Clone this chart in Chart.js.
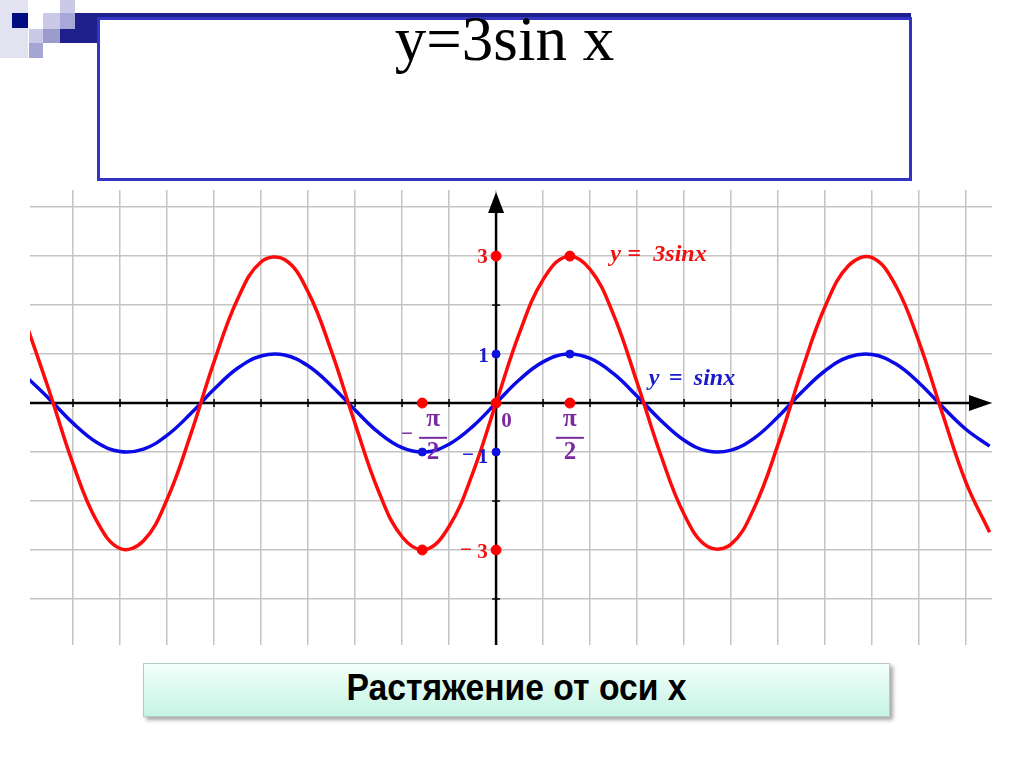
<!DOCTYPE html>
<html lang="ru">
<head>
	<meta charset="utf-8">
	<title>y=3sin x</title>
	<style>
body {
	margin: 0;
	width: 1024px;
	height: 767px;
	background: #fff;
	position: relative;
	overflow: hidden;
}
.sq { position: absolute; }
#titleBox {
	position: absolute;
	left: 97px;
	top: 17px;
	width: 809px;
	height: 158px;
	border: 3px solid #3434c2;
}
#titleText {
	position: absolute;
	left: 97px;
	top: 8px;
	width: 815px;
	text-align: center;
	font: 63px/63px "Liberation Serif", "Times New Roman", serif;
	color: #000;
}
#chartWrapper {
	position: absolute;
	left: 0;
	top: 180px;
	width: 1024px;
	height: 480px;
}
#noteBox {
	position: absolute;
	left: 143px;
	top: 663px;
	width: 745px;
	height: 52px;
	border: 1px solid #b9cbc3;
	background: linear-gradient(#f3fffb, #c4f4e3);
	box-shadow: 3px 3px 4px rgba(0,0,0,0.35);
}
#noteText {
	position: absolute;
	left: 143px;
	top: 663px;
	width: 747px;
	line-height: 50px;
	text-align: center;
	font-weight: bold;
	font-size: 37px;
	font-family: "Liberation Sans", Arial, sans-serif;
	transform: scaleX(0.91);
	color: #000;
}
	</style>
</head>
<body>

<div class="sq" style="left:0;top:0;width:28px;height:58px;background:#e2e2f1"></div>
<div class="sq" style="left:12px;top:13px;width:16px;height:15px;background:#000c80"></div>
<div class="sq" style="left:29px;top:29px;width:14px;height:14px;background:#cacae8"></div>
<div class="sq" style="left:29px;top:43px;width:14px;height:15px;background:#a6a6d6"></div>
<div class="sq" style="left:43px;top:13px;width:17px;height:16px;background:#cacae8"></div>
<div class="sq" style="left:43px;top:29px;width:17px;height:14px;background:#9c9ccc"></div>
<div class="sq" style="left:60px;top:0;width:15px;height:13px;background:#cacae8"></div>
<div class="sq" style="left:60px;top:13px;width:15px;height:16px;background:#a8a8d8"></div>
<div class="sq" style="left:60px;top:29px;width:38px;height:14px;background:#1e1e8c"></div>
<div class="sq" style="left:75px;top:13px;width:836px;height:5px;background:#1e1e8c"></div>
<div class="sq" style="left:75px;top:13px;width:23px;height:30px;background:#1e1e8c"></div>

<div id="titleBox"></div>
<div id="titleText">y=3sin x</div>

<div id="chartWrapper">
  <canvas id="myChart"></canvas>
</div>

<div id="noteBox"></div>
<div id="noteText">Растяжение от оси x</div>

<script src="https://cdn.jsdelivr.net/npm/chart.js"></script>
<script>
// x positions of the sampled points (grid step = 1)
const xs = [-10, -9.5, -9, -8.5, -8, -7.5, -7, -6.5, -6, -5.5, -5, -4.5, -4, -3.5, -3, -2.5, -2, -1.5, -1, -0.5,
	0, 0.5, 1, 1.5, 2, 2.5, 3, 3.5, 4, 4.5, 5, 5.5, 6, 6.5, 7, 7.5, 8, 8.5, 9, 9.5, 10, 10.5];

// y = 3sin x (red)
const redVals = [1.63, 0.23, -1.24, -2.4, -2.97, -2.81, -1.97, -0.65, 0.84, 2.12, 2.88, 2.93, 2.27, 1.05, -0.42, -1.8, -2.73, -2.99, -2.52, -1.44,
	0, 1.44, 2.52, 2.99, 2.73, 1.8, 0.42, -1.05, -2.27, -2.93, -2.88, -2.12, -0.84, 0.65, 1.97, 2.81, 2.97, 2.4, 1.24, -0.23, -1.63, -2.64];

// y = sin x (blue)
const blueVals = [0.54, 0.08, -0.41, -0.8, -0.99, -0.94, -0.66, -0.22, 0.28, 0.71, 0.96, 0.98, 0.76, 0.35, -0.14, -0.6, -0.91, -1.0, -0.84, -0.48,
	0, 0.48, 0.84, 1.0, 0.91, 0.6, 0.14, -0.35, -0.76, -0.98, -0.96, -0.71, -0.28, 0.22, 0.66, 0.94, 0.99, 0.8, 0.41, -0.08, -0.54, -0.88];

// marked points
const redDotsX = [0, 1.57, -1.57, 0, -1.57, 1.57, 0];
const redDotsY = [3, 3, -3, -3, 0, 0, 0];
const blueDotsX = [0, 1.57, -1.57, 0];
const blueDotsY = [1, 1, -1, -1];

// axis value labels: [text, x, y, color]
const axisLabels = [
	['3', -0.29, 2.97, '#ee1111'],
	['1', -0.27, 0.95, '#1a1ac8'],
	['1', -0.28, -1.12, '#1a1ac8'],
	['\u2212', -0.6, -1.08, '#1a1ac8'],
	['3', -0.29, -3.06, '#ee1111'],
	['\u2212', -0.64, -3.02, '#ee1111'],
	['0', 0.22, -0.37, '#7a2a9e']
];
// pi/2 fractions: [sign, x of fraction centre]
const piLabels = [
	['', 1.57],
	['\u2212', -1.34]
];

const X_MIN = -9.915, X_MAX = 10.55;
const Y_MIN = -4.94, Y_MAX = 4.35;

const toPts = (a, b) => a.map((v, i) => ({x: v, y: b[i]}));

function drawName(ctx, parts, x, y) {
	// parts: [text, offset px]
	for (const [t, dx] of parts) ctx.fillText(t, x + dx, y);
}

const axesPlugin = {
	id: 'axes',
	beforeDatasetsDraw(chart) {
		const {ctx, chartArea, scales} = chart;
		const x0 = scales.x.getPixelForValue(0);
		const y0 = scales.y.getPixelForValue(0);
		ctx.save();
		ctx.strokeStyle = '#000';
		ctx.fillStyle = '#000';
		ctx.lineWidth = 2.5;
		// x axis
		ctx.beginPath();
		ctx.moveTo(chartArea.left, y0);
		ctx.lineTo(chartArea.right - 20, y0);
		ctx.stroke();
		ctx.beginPath();
		ctx.moveTo(chartArea.right, y0);
		ctx.lineTo(chartArea.right - 23, y0 - 8);
		ctx.lineTo(chartArea.right - 23, y0 + 8);
		ctx.closePath();
		ctx.fill();
		// y axis
		ctx.beginPath();
		ctx.moveTo(x0, chartArea.bottom);
		ctx.lineTo(x0, chartArea.top + 20);
		ctx.stroke();
		ctx.beginPath();
		ctx.moveTo(x0, chartArea.top + 2);
		ctx.lineTo(x0 - 8, chartArea.top + 23);
		ctx.lineTo(x0 + 8, chartArea.top + 23);
		ctx.closePath();
		ctx.fill();
		// tick marks
		ctx.lineWidth = 1.5;
		for (let t = -9; t <= 9; t++) {
			const px = scales.x.getPixelForValue(t);
			ctx.beginPath();
			ctx.moveTo(px, y0 - 4);
			ctx.lineTo(px, y0 + 4);
			ctx.stroke();
		}
		for (let t = -4; t <= 3; t++) {
			const py = scales.y.getPixelForValue(t);
			ctx.beginPath();
			ctx.moveTo(x0 - 4, py);
			ctx.lineTo(x0 + 4, py);
			ctx.stroke();
		}
		ctx.restore();
	},
	afterDatasetsDraw(chart) {
		const {ctx, scales} = chart;
		const sx = v => scales.x.getPixelForValue(v);
		const sy = v => scales.y.getPixelForValue(v);
		ctx.save();
		ctx.textAlign = 'center';
		ctx.textBaseline = 'middle';
		ctx.font = 'bold 21px "Liberation Serif", serif';
		for (const [t, x, y, c] of axisLabels) {
			ctx.fillStyle = c;
			ctx.fillText(t, sx(x), sy(y));
		}
		// pi/2 fractions
		for (const [sign, x] of piLabels) {
			const px = sx(x);
			ctx.fillStyle = '#7a2a9e';
			ctx.strokeStyle = '#7a2a9e';
			ctx.font = 'bold 25px "Liberation Serif", serif';
			ctx.fillText('\u03c0', px, sy(-0.33));
			ctx.fillText('2', px, sy(-1.01));
			ctx.lineWidth = 2;
			ctx.beginPath();
			ctx.moveTo(px - 14, sy(-0.71));
			ctx.lineTo(px + 14, sy(-0.71));
			ctx.stroke();
			ctx.font = 'bold 21px "Liberation Serif", serif';
			if (sign) ctx.fillText(sign, px - 26, sy(-0.64));
		}
		// curve names
		ctx.textAlign = 'left';
		ctx.font = 'italic bold 24px "Liberation Serif", serif';
		ctx.fillStyle = '#ee1111';
		drawName(ctx, [['y', 0], ['=', 17], ['3sinx', 43]], sx(2.43), sy(3.02));
		ctx.fillStyle = '#1a1ac8';
		drawName(ctx, [['y', 0], ['=', 20], ['sinx', 45]], sx(3.25), sy(0.5));
		ctx.restore();
	}
};

const ctx = document.getElementById('myChart');

new Chart(ctx, {
	type: 'scatter',
	data: {
		datasets: [
			{
				label: 'dots red',
				data: toPts(redDotsX, redDotsY),
				backgroundColor: '#ff0000',
				borderColor: '#ff0000',
				pointRadius: 5,
				showLine: false,
				order: 0
			},
			{
				label: 'dots blue',
				data: toPts(blueDotsX, blueDotsY),
				backgroundColor: '#1010e0',
				borderColor: '#1010e0',
				pointRadius: 4,
				showLine: false,
				order: 1
			},
			{
				label: 'y = 3sin x',
				data: toPts(xs, redVals),
				borderColor: '#ff0a0a',
				borderWidth: 3.5,
				pointRadius: 0,
				showLine: true,
				tension: 0.4,
				order: 2
			},
			{
				label: 'y = sin x',
				data: toPts(xs, blueVals),
				borderColor: '#0a0ae6',
				borderWidth: 3.5,
				pointRadius: 0,
				showLine: true,
				tension: 0.4,
				order: 3
			}
		]
	},
	plugins: [axesPlugin],
	options: {
		responsive: true,
		maintainAspectRatio: false,
		animation: false,
		layout: {
			padding: {left: 30, right: 32, top: 10, bottom: 15}
		},
		scales: {
			x: {
				type: 'linear',
				min: X_MIN,
				max: X_MAX,
				ticks: {display: false, stepSize: 1, includeBounds: false},
				grid: {color: '#c4c4c4', lineWidth: 1.5, drawTicks: false},
				border: {display: false}
			},
			y: {
				type: 'linear',
				min: Y_MIN,
				max: Y_MAX,
				ticks: {display: false, stepSize: 1, includeBounds: false},
				grid: {color: '#c4c4c4', lineWidth: 1.5, drawTicks: false},
				border: {display: false}
			}
		},
		plugins: {
			legend: {display: false},
			tooltip: {enabled: false}
		}
	}
});
</script>
</body>
</html>
